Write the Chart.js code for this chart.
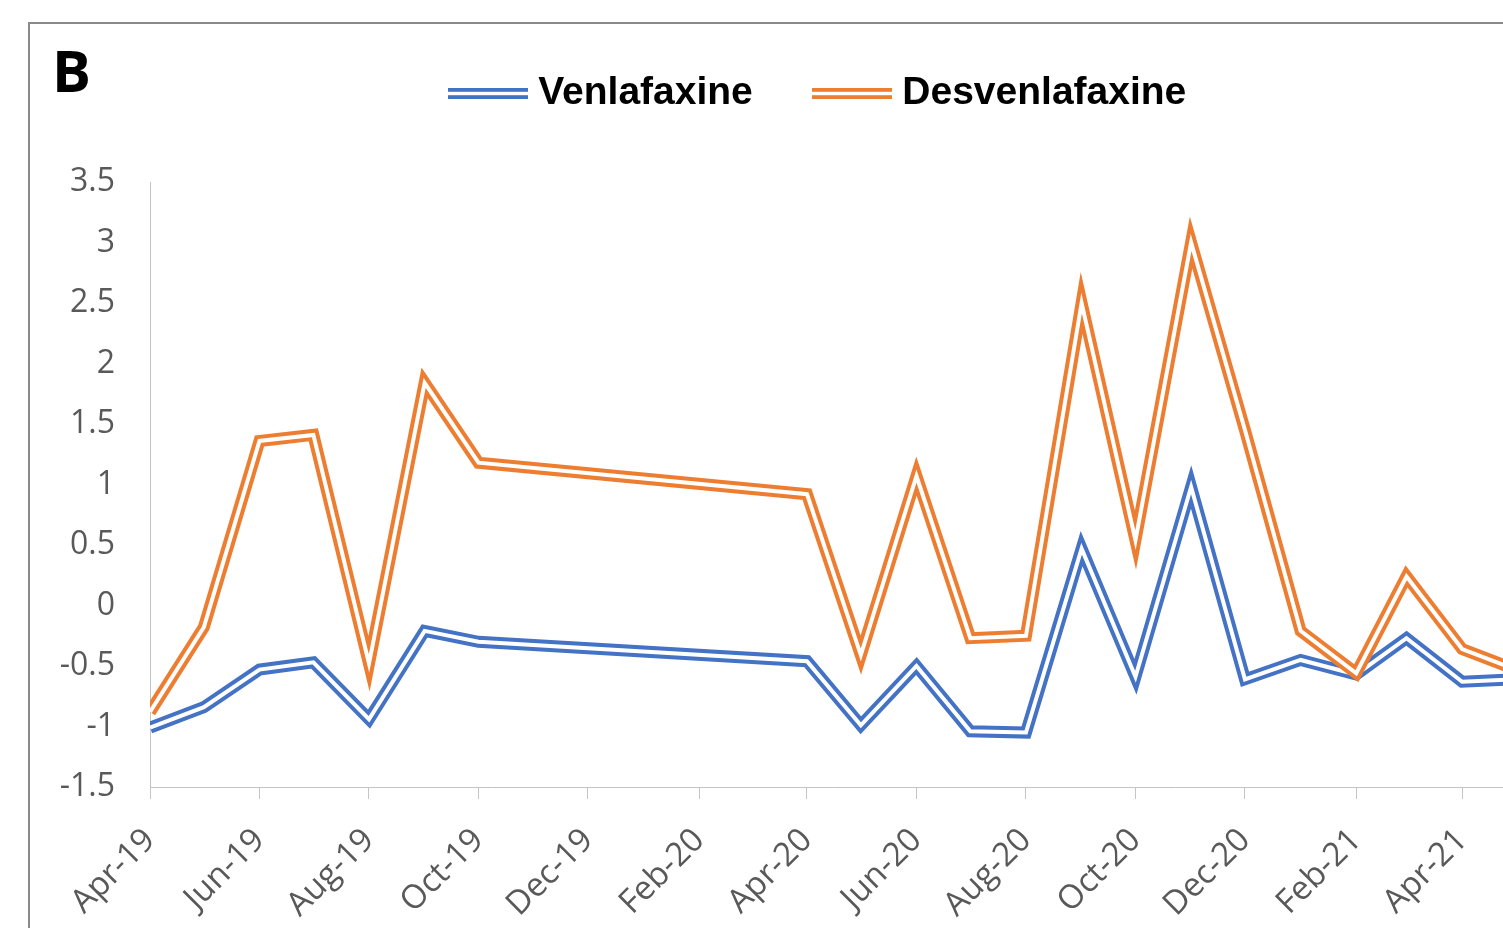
<!DOCTYPE html>
<html>
<head>
<meta charset="utf-8">
<script src="https://cdn.jsdelivr.net/npm/chart.js@4/dist/chart.umd.min.js"></script>
<style>
  html, body { margin: 0; padding: 0; background: #fff; overflow: hidden; }
  #frame { position: absolute; left: 28px; top: 22px; width: 2000px; height: 2000px;
           border-left: 2px solid #8a8a8a; border-top: 2px solid #8a8a8a; }
  #chart { position: absolute; left: 0; top: 0; }
</style>
</head>
<body>
<div id="frame"></div>
<canvas id="chart" width="1644" height="1000"></canvas>
<script>
const months = ["Apr-19", "May-19", "Jun-19", "Jul-19", "Aug-19", "Sep-19", "Oct-19",
  "Apr-20", "May-20", "Jun-20", "Jul-20", "Aug-20", "Sep-20", "Oct-20", "Nov-20", "Dec-20",
  "Jan-21", "Feb-21", "Mar-21", "Apr-21", "May-21"];

const venlafaxine = [-1.01, -0.84, -0.53, -0.47, -0.94, -0.21, -0.30,
  -0.46, -0.99, -0.50, -1.04, -1.05, 0.47, -0.59, 0.98, -0.61,
  -0.45, -0.57, -0.27, -0.63, -0.61];

const desvenlafaxine = [-0.88, -0.18, 1.36, 1.41, -0.48, 1.84, 1.18,
  0.92, -0.41, 1.07, -0.27, -0.25, 2.5, 0.54, 3.0, 1.45,
  -0.21, -0.56, 0.24, -0.36, -0.53];

const tickLabels = ["Apr-19", "Jun-19", "Aug-19", "Oct-19", "Dec-19", "Feb-20", "Apr-20",
  "Jun-20", "Aug-20", "Oct-20", "Dec-20", "Feb-21", "Apr-21"];

const colors = {
  blue: "#4472c4",
  orange: "#ed7d31",
  axis: "#c4c4c4",
  text: "#595959",
};

const monthNames = ["Jan", "Feb", "Mar", "Apr", "May", "Jun", "Jul", "Aug", "Sep", "Oct", "Nov", "Dec"];
const origin = Date.UTC(2019, 3, 1);

// "Apr-19" -> days since 1 Apr 2019 (Excel date axis is day based)
const toDay = (label) => {
  const [m, y] = label.split("-");
  return (Date.UTC(2000 + Number(y), monthNames.indexOf(m), 1) - origin) / 86400000;
};

const pairs = (values) => values.map((v, i) => ({ x: toDay(months[i]), y: v }));

// small double-line icon for the legend
const doubleLine = (color) => {
  const c = document.createElement("canvas");
  c.width = 80;
  c.height = 11;
  const g = c.getContext("2d");
  g.fillStyle = color;
  g.fillRect(0, 0, 80, 11);
  g.fillStyle = "#fff";
  g.fillRect(0, 3.8, 80, 3.4);
  return c;
};

const panelLabel = {
  id: "panelLabel",
  afterDraw(chart) {
    const ctx = chart.ctx;
    ctx.save();
    ctx.font = "bold 58px 'Open Sans'";
    ctx.fillStyle = "#000";
    ctx.textBaseline = "alphabetic";
    ctx.textAlign = "left";
    ctx.fillText("B", 52, 92);
    ctx.restore();
  },
};

const outer = { xAxisID: "x", yAxisID: "y", borderWidth: 12, pointRadius: 0, borderJoinStyle: "miter", tension: 0, fill: false };
const inner = { xAxisID: "x", yAxisID: "y", borderWidth: 4, pointRadius: 0, borderJoinStyle: "miter", tension: 0, fill: false, borderColor: "#fff" };

const ctx = document.getElementById("chart").getContext("2d");

new Chart(ctx, {
  type: "line",
  data: {
    datasets: [
      { ...outer, label: "Venlafaxine", data: pairs(venlafaxine), borderColor: colors.blue, order: 4 },
      { ...inner, label: "Venlafaxine inner", data: pairs(venlafaxine), order: 3 },
      { ...outer, label: "Desvenlafaxine", data: pairs(desvenlafaxine), borderColor: colors.orange, order: 2 },
      { ...inner, label: "Desvenlafaxine inner", data: pairs(desvenlafaxine), order: 1 },
    ],
  },
  options: {
    responsive: false,
    animation: false,
    layout: { padding: { top: 5, left: 0, right: 0, bottom: 0 } },
    plugins: {
      tooltip: { enabled: false },
      legend: {
        position: "top",
        labels: {
          usePointStyle: true,
          pointStyleWidth: 61,
          padding: 69,
          color: "#000",
          font: { family: "Liberation Sans", size: 39, weight: "bold" },
          generateLabels: () => [
            { text: "Venlafaxine", pointStyle: doubleLine(colors.blue), datasetIndex: 0,
              hidden: false, lineWidth: 0, fontColor: "#000" },
            { text: "Desvenlafaxine", pointStyle: doubleLine(colors.orange), datasetIndex: 2,
              hidden: false, lineWidth: 0, fontColor: "#000" },
          ],
        },
      },
    },
    scales: {
      x: {
        type: "linear",
        min: toDay("Apr-19"),
        max: toDay("May-21"),
        afterBuildTicks: (scale) => {
          scale.ticks = tickLabels.map((l) => ({ value: toDay(l) }));
        },
        afterFit: (scale) => {
          scale.height = 213;
          scale.paddingRight = 128;
        },
        grid: {
          display: true,
          drawOnChartArea: false,
          drawTicks: true,
          tickLength: 12,
          color: colors.axis,
        },
        border: { display: true, color: colors.axis, dash: [3, 2] },
        ticks: {
          autoSkip: false,
          minRotation: 45,
          maxRotation: 45,
          padding: 22,
          color: colors.text,
          font: { family: "Open Sans", size: 33 },
          callback: (value, index) => tickLabels[index],
        },
      },
      // empty spacer between legend and plot
      xTop: {
        type: "linear",
        position: "top",
        display: true,
        grid: { display: false, drawTicks: false },
        border: { display: false },
        ticks: { display: false },
        afterFit: (scale) => {
          scale.height = 59;
        },
      },
      y: {
        min: -1.5,
        max: 3.5,
        afterFit: (scale) => {
          scale.width = 150;
        },
        grid: { display: false, drawTicks: false },
        border: { display: true, color: colors.axis, dash: [3, 2] },
        ticks: {
          stepSize: 0.5,
          padding: 35,
          color: colors.text,
          font: { family: "Open Sans", size: 32 },
          callback: (v) => String(v),
        },
      },
    },
  },
  plugins: [panelLabel],
});
</script>
</body>
</html>
